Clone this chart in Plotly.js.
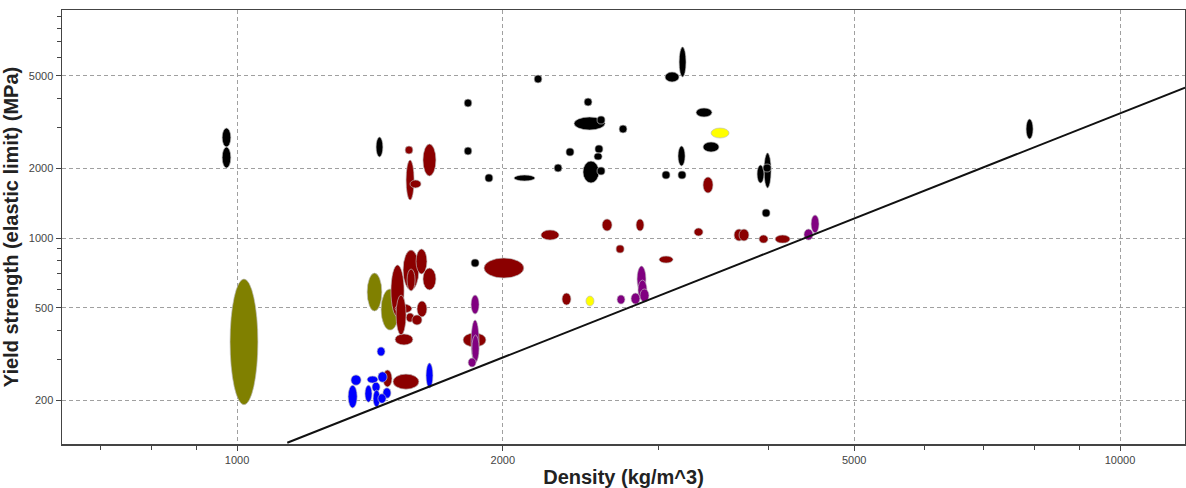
<!DOCTYPE html>
<html>
<head>
<meta charset="utf-8">
<script src="https://cdn.plot.ly/plotly-3.0.1.min.js"></script>
<style>html,body{margin:0;padding:0;background:#fff;}#chart{width:1186px;height:488px;}</style>
</head>
<body>
<div id="chart"></div>
<script>
// Each ellipse: [density min, density max, yield strength min, yield strength max]
const groupNames = ["black", "darkred", "olive", "yellow", "purple", "blue"];
const groupColors = ["#000000", "#8b0000", "#808000", "#ffff00", "#800080", "#0000ff"];

const olive = [
  [982, 1056, 191, 666],
  [1404, 1459, 484, 706],
  [1456, 1526, 401, 603]
];
const darkred = [
  [1550, 1582, 2302, 2492],
  [1554, 1587, 1458, 2169],
  [1570, 1616, 1643, 1778],
  [1624, 1680, 1850, 2542],
  [3371, 3460, 1563, 1832],
  [2209, 2316, 980, 1083],
  [2591, 2659, 1072, 1208],
  [2831, 2890, 1072, 1208],
  [2687, 2744, 862, 933],
  [3006, 3118, 780, 836],
  [3293, 3371, 1020, 1104],
  [3655, 3752, 971, 1093],
  [3703, 3800, 971, 1093],
  [3901, 3994, 951, 1030],
  [4068, 4230, 951, 1030],
  [2334, 2389, 514, 579],
  [1904, 2113, 672, 820],
  [1803, 1914, 339, 390],
  [1494, 1546, 457, 765],
  [1542, 1607, 597, 888],
  [1595, 1641, 700, 897],
  [1558, 1591, 591, 735],
  [1624, 1680, 597, 742],
  [1510, 1578, 475, 519],
  [1599, 1641, 457, 535],
  [1554, 1587, 434, 475],
  [1578, 1620, 422, 466],
  [1510, 1582, 346, 386],
  [1514, 1554, 382, 568],
  [1463, 1498, 228, 270],
  [1502, 1607, 223, 259]
];
const black = [
  [962, 984, 2467, 2979],
  [962, 984, 2003, 2467],
  [1437, 1463, 2234, 2724],
  [1808, 1845, 3670, 3973],
  [1808, 1845, 2279, 2467],
  [1909, 1949, 1743, 1888],
  [2059, 2175, 1761, 1869],
  [2170, 2215, 4657, 5042],
  [2286, 2334, 1926, 2084],
  [2358, 2408, 2256, 2443],
  [2472, 2524, 3707, 4013],
  [2408, 2611, 2921, 3324],
  [2557, 2611, 3100, 3357],
  [2543, 2597, 2325, 2517],
  [2537, 2591, 2169, 2325],
  [2465, 2570, 1726, 2147],
  [2557, 2611, 1869, 2023],
  [2708, 2765, 2835, 3069],
  [3053, 3167, 4703, 5194],
  [3167, 3225, 4943, 6657],
  [3310, 3451, 3324, 3633],
  [3371, 3515, 2348, 2593],
  [3158, 3217, 2043, 2492],
  [3029, 3093, 1796, 1945],
  [3158, 3225, 1796, 1945],
  [3952, 4026, 1643, 2325],
  [3881, 3952, 1726, 2064],
  [3942, 4026, 1926, 2084],
  [3932, 4015, 1232, 1334],
  [7827, 7972, 2671, 3258],
  [1841, 1880, 750, 812]
];
const yellow = [
  [3442, 3608, 2698, 2979],
  [2484, 2537, 509, 562]
];
const purple = [
  [1841, 1880, 470, 568],
  [1841, 1880, 289, 443],
  [1845, 1880, 292, 382],
  [1827, 1865, 278, 304],
  [2694, 2750, 519, 568],
  [2838, 2905, 585, 757],
  [2845, 2913, 540, 659],
  [2794, 2860, 519, 579],
  [2860, 2928, 530, 603],
  [4386, 4491, 980, 1093],
  [4468, 4562, 1051, 1257]
];
const blue = [
  [1441, 1471, 310, 339],
  [1346, 1382, 232, 257],
  [1336, 1368, 185, 232],
  [1404, 1444, 237, 254],
  [1444, 1479, 239, 265],
  [1422, 1452, 217, 239],
  [1396, 1422, 196, 232],
  [1426, 1452, 187, 221],
  [1463, 1494, 204, 226],
  [1444, 1475, 194, 213],
  [1637, 1667, 226, 289]
];
const groups = { olive: olive, darkred: darkred, black: black, yellow: yellow, purple: purple, blue: blue };
const drawOrder = ["olive", "darkred", "black", "yellow", "purple", "blue"];

// guideline (yield strength / density limit)
const lineDensity = [1140, 11850];
const lineStrength = [131, 4450];

const xTicks = [1000, 2000, 5000, 10000];
const yTicks = [200, 500, 1000, 2000, 5000];
const xMinor = [700, 800, 900, 3000, 4000, 6000, 7000, 8000, 9000];
const yMinor = [300, 400, 600, 700, 800, 900, 3000, 4000, 6000, 7000, 8000, 9000];

const shapes = [];
drawOrder.forEach(function (g) {
  const col = groupColors[groupNames.indexOf(g)];
  groups[g].forEach(function (e) {
    shapes.push({
      type: "circle", xref: "x", yref: "y", layer: "between",
      x0: e[0], x1: e[1], y0: e[2], y1: e[3],
      fillcolor: col,
      line: { color: "rgba(190,190,190,0.85)", width: 0.8 }
    });
  });
});

const traces = [{
  type: "scatter", mode: "lines",
  x: lineDensity, y: lineStrength,
  line: { color: "#111111", width: 2 },
  hoverinfo: "skip", showlegend: false
}];

const axisCommon = {
  type: "log",
  showline: true, linecolor: "#444444", linewidth: 1.5, mirror: true,
  showgrid: true, gridcolor: "#a0a0a0", griddash: "4px,3px", gridwidth: 1,
  ticks: "outside", ticklen: 5, tickcolor: "#444444", tickwidth: 1,
  tickmode: "array",
  tickfont: { family: "Liberation Sans, Arial, sans-serif", size: 11, color: "#444444" },
  zeroline: false
};

const layout = {
  width: 1186, height: 488,
  margin: { l: 62, r: 1, t: 10, b: 44 },
  paper_bgcolor: "#ffffff", plot_bgcolor: "#ffffff",
  showlegend: false,
  xaxis: Object.assign({}, axisCommon, {
    range: [2.8018, 4.0736],
    tickvals: xTicks, ticktext: xTicks.map(String),
    minor: { tickmode: "array", tickvals: xMinor, ticks: "outside", ticklen: 4, tickcolor: "#444444", showgrid: false },
    title: { text: "<b>Density (kg/m^3)</b>", standoff: 6,
      font: { family: "Liberation Sans, Arial, sans-serif", size: 20, color: "#222222" } }
  }),
  yaxis: Object.assign({}, axisCommon, {
    range: [2.1121, 3.9828],
    tickvals: yTicks, ticktext: yTicks.map(String),
    minor: { tickmode: "array", tickvals: yMinor, ticks: "outside", ticklen: 4, tickcolor: "#444444", showgrid: false },
    title: { text: "<b>Yield strength (elastic limit) (MPa)</b>", standoff: 6,
      font: { family: "Liberation Sans, Arial, sans-serif", size: 20, color: "#222222" } }
  }),
  shapes: shapes
};

Plotly.newPlot("chart", traces, layout, { displayModeBar: false, staticPlot: true });
</script>
</body>
</html>
